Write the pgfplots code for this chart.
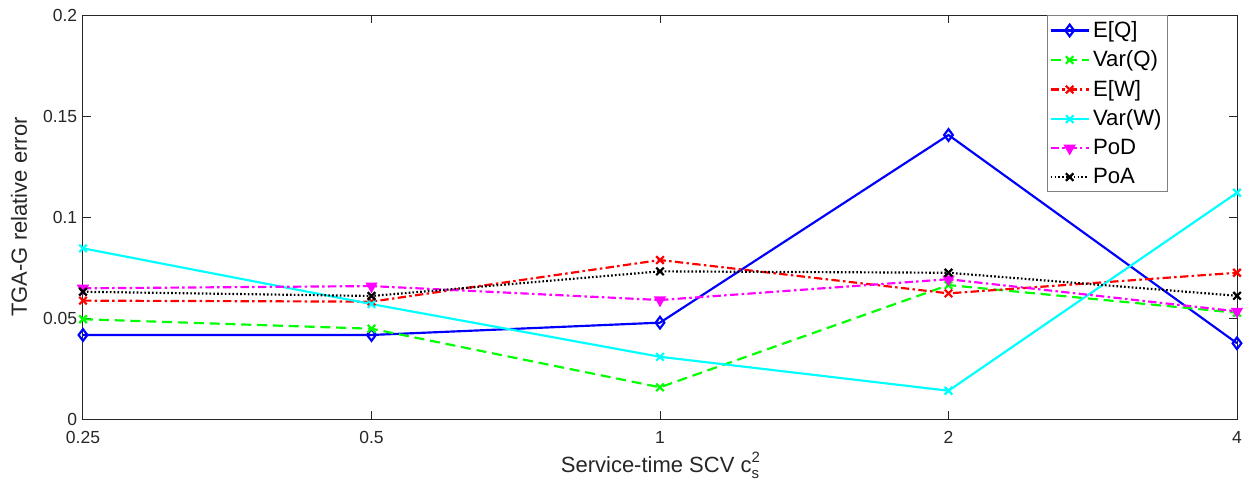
\documentclass[border=0pt]{standalone}
\usepackage{fontspec}
\setmainfont{Liberation Sans}
\usepackage{pgfplots}
\pgfplotsset{compat=1.18}
\definecolor{axgray}{gray}{0.15}
\definecolor{lgray}{gray}{0.5}
\definecolor{mblue}{rgb}{0,0,1}
\definecolor{mgreen}{rgb}{0,1,0}
\definecolor{mred}{rgb}{1,0,0}
\definecolor{mcyan}{rgb}{0,1,1}
\definecolor{mmagenta}{rgb}{1,0,1}
\begin{document}
\begin{tikzpicture}
\begin{axis}[
  at={(0pt,0pt)}, anchor=south west,
  scale only axis, width=692.4pt, height=242.4pt,
  xmin=0, xmax=4, ymin=0, ymax=0.2,
  xtick={0,1,2,3,4}, xticklabels={0.25,0.5,1,2,4},
  ytick={0,0.05,0.1,0.15,0.2}, yticklabels={0,0.05,0.1,0.15,0.2},
  tick align=inside, major tick length=5pt,
  axis line style={axgray, line width=0.6pt}, tick style={axgray, line width=0.6pt},
  ticklabel style={font=\fontsize{10.5}{12}\selectfont, text=axgray},
  xticklabel style={yshift=-4pt},
  xlabel={Service-time SCV c\rlap{\raisebox{6pt}{\fontsize{9}{9}\selectfont 2}}\raisebox{-3.8pt}{\fontsize{9}{9}\selectfont s}},
  ylabel={TGA-G relative error},
  label style={font=\fontsize{13.2}{15}\selectfont, text=axgray},
  xlabel style={at={(axis description cs:0.5,-0.115)}, anchor=center},
  ylabel style={at={(axis description cs:-0.0555,0.5)}, anchor=center},
  legend style={at={(0.94,1)}, anchor=north east, draw=lgray, fill=white,
    font=\fontsize{13.3}{15}\selectfont, inner sep=1.5pt, row sep=2.6pt,
    cells={anchor=west}},
  legend image code/.code={\draw[mark repeat=2,mark phase=2] plot coordinates {(0cm,0cm)(0.4cm,0cm)(0.8cm,0cm)};},
  every axis plot/.append style={line width=1.3pt},
]
\addplot[mblue, solid, mark=diamond, mark size=3.5pt, mark options={solid}]
  coordinates {(0,0.0416) (1,0.0416) (2,0.0477) (3,0.1406) (4,0.0375)};
\addlegendentry{E[Q]}
\addplot[mgreen, dash pattern=on 6pt off 3.5pt, mark=x, mark size=3.2pt, mark options={solid}]
  coordinates {(0,0.0494) (1,0.0447) (2,0.0157) (3,0.0663) (4,0.0526)};
\addlegendentry{Var(Q)}
\addplot[mred, dash pattern=on 5pt off 2pt on 1.5pt off 2pt, mark=x, mark size=3.2pt, mark options={solid}]
  coordinates {(0,0.0586) (1,0.0581) (2,0.0787) (3,0.0622) (4,0.0724)};
\addlegendentry{E[W]}
\addplot[mcyan, solid, mark=x, mark size=3.2pt, mark options={solid}]
  coordinates {(0,0.0845) (1,0.0569) (2,0.0308) (3,0.0140) (4,0.1120)};
\addlegendentry{Var(W)}
\addplot[mmagenta, dash pattern=on 5pt off 2pt on 1.5pt off 2pt, mark=triangle*, mark size=3pt, mark options={solid, rotate=180, fill=mmagenta}]
  coordinates {(0,0.0647) (1,0.0658) (2,0.0589) (3,0.0692) (4,0.0533)};
\addlegendentry{PoD}
\addplot[black, dash pattern=on 1pt off 1.3pt, mark=x, mark size=3.2pt, mark options={solid}]
  coordinates {(0,0.0630) (1,0.0609) (2,0.0731) (3,0.0724) (4,0.0610)};
\addlegendentry{PoA}
\end{axis}
\pgfresetboundingbox
\path[use as bounding box] (-49.8pt,-39pt) rectangle (696pt,251.4pt);
\end{tikzpicture}
\end{document}
